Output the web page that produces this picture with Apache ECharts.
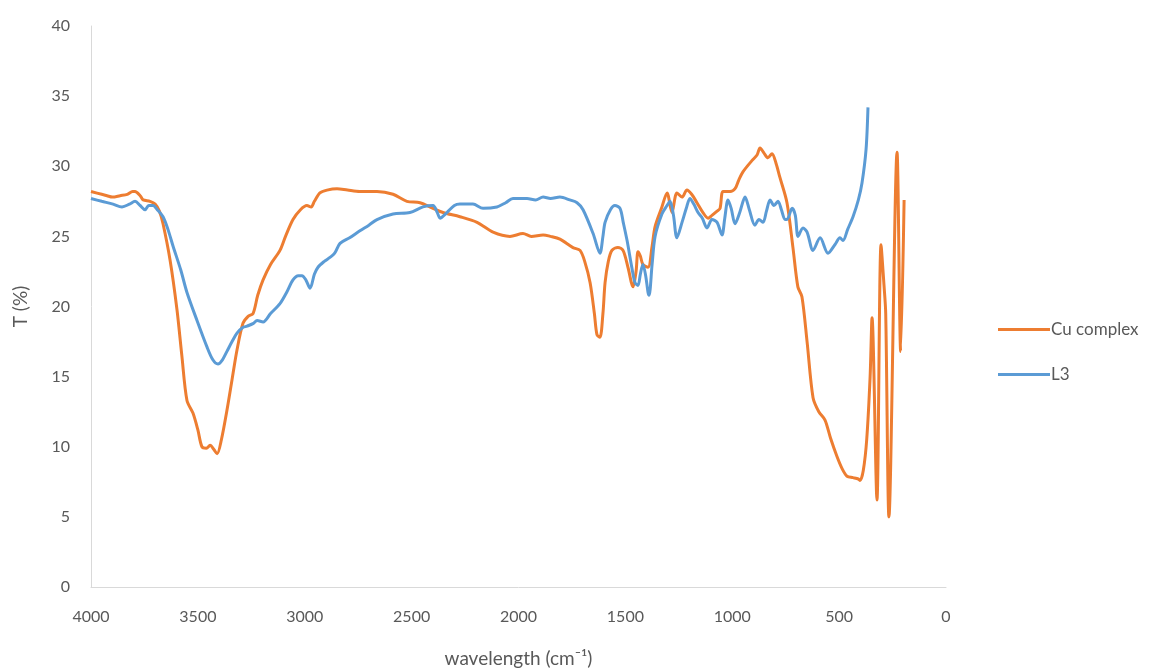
<!DOCTYPE html>
<html>
<head>
<meta charset="utf-8">
<script src="https://cdn.jsdelivr.net/npm/echarts@6/dist/echarts.min.js"></script>
<style>html,body{margin:0;padding:0;background:#fff;overflow:hidden}#c{width:1167px;height:669px}</style>
</head>
<body>
<div id="c"></div>
<script>
const cuWave = [4000,3950,3925,3900,3864,3830,3805,3794,3770,3756,3724,3700,3680,3663,3630,3598,3575,3551,3523,3500,3481,3460,3443,3425,3410,3390,3364,3340,3317,3289,3265,3242,3220,3195,3160,3116,3090,3055,3020,2990,2970,2955,2929,2896,2849,2800,2742,2662,2587,2522,2461,2400,2353,2274,2194,2119,2040,1979,1940,1885,1850,1806,1745,1712,1690,1665,1645,1633,1619,1605,1595,1580,1563,1535,1511,1488,1464,1450,1441,1430,1418,1394,1375,1361,1329,1305,1282,1259,1235,1212,1190,1165,1137,1113,1095,1071,1057,1043,1010,987,970,950,908,884,870,850,833,814,795,777,744,716,693,674,650,622,595,566,540,510,485,463,435,410,402,387,371,355,346,323,304,290,282,267,229,212,196];
const cuT    = [28.2,28.0,27.9,27.8,27.9,28.0,28.2,28.2,27.9,27.6,27.5,27.3,26.8,25.9,23.3,19.8,16.5,13.3,12.4,11.2,10.0,9.9,10.1,9.8,9.5,10.5,12.6,14.8,16.9,18.8,19.3,19.5,20.8,21.9,23.0,24.0,25.0,26.2,26.9,27.2,27.1,27.5,28.1,28.3,28.4,28.3,28.2,28.2,28.0,27.5,27.4,27.0,26.7,26.4,26.0,25.3,25.0,25.2,25.0,25.1,25.0,24.8,24.2,24.0,23.2,21.7,19.5,18.0,17.8,19.5,21.7,23.2,24.0,24.2,24.0,22.8,21.4,22.5,23.9,23.6,23.0,22.8,24.3,25.7,27.1,28.1,26.7,28.1,27.8,28.3,28.0,27.4,26.7,26.3,26.5,26.8,27.0,28.2,28.2,28.4,29.0,29.6,30.4,30.8,31.3,30.9,30.6,30.9,30.2,29.2,27.4,24.2,21.4,20.7,17.5,13.5,12.5,11.9,10.6,9.3,8.4,7.9,7.8,7.7,7.6,8.3,10.5,15.0,19.2,6.2,24.4,21.5,19.5,5.0,31.0,16.8,27.6];

const l3Wave = [4000,3950,3897,3855,3820,3794,3770,3747,3730,3710,3690,3663,3640,3616,3580,3551,3504,3457,3430,3406,3385,3364,3340,3317,3290,3270,3240,3223,3195,3160,3116,3085,3055,3030,3013,2995,2975,2955,2938,2910,2882,2860,2835,2790,2742,2700,2662,2587,2508,2447,2400,2380,2367,2335,2300,2274,2213,2166,2101,2060,2026,1960,1920,1885,1850,1806,1760,1726,1698,1651,1619,1605,1595,1570,1549,1525,1510,1492,1470,1455,1441,1430,1418,1405,1394,1389,1375,1361,1329,1305,1291,1275,1259,1235,1215,1198,1180,1160,1140,1118,1095,1071,1048,1035,1020,1005,987,965,940,920,894,875,856,840,823,805,786,770,753,744,720,705,692,669,650,622,589,552,520,496,482,460,435,410,393,374,365];
const l3T    = [27.7,27.5,27.3,27.1,27.3,27.5,27.2,26.9,27.2,27.2,26.9,26.4,25.5,24.3,22.6,21.0,19.0,17.1,16.2,15.9,16.2,16.8,17.5,18.1,18.5,18.6,18.8,19.0,18.9,19.5,20.2,21.0,21.9,22.2,22.2,21.9,21.3,22.3,22.8,23.2,23.5,23.8,24.5,24.9,25.4,25.8,26.2,26.6,26.7,27.1,27.2,26.7,26.3,26.7,27.2,27.3,27.3,27.0,27.1,27.4,27.7,27.7,27.6,27.8,27.7,27.8,27.6,27.4,26.9,25.2,23.8,25.0,26.0,26.9,27.2,27.0,26.0,24.7,22.8,21.7,21.5,22.3,23.0,22.2,21.0,20.8,23.0,25.0,26.6,27.2,27.5,26.5,24.9,26.0,27.0,27.7,27.3,26.7,26.3,25.6,26.2,26.0,25.1,26.3,27.6,27.0,25.9,26.7,27.8,26.9,25.8,26.2,26.0,26.8,27.6,27.2,27.5,26.9,26.2,26.2,27.0,26.5,25.0,25.6,25.3,24.0,24.9,23.8,24.4,24.9,24.7,25.5,26.4,27.6,28.8,31.2,34.2];

const xTicks = [0, 500, 1000, 1500, 2000, 2500, 3000, 3500, 4000];
const yTicks = [0, 5, 10, 15, 20, 25, 30, 35, 40];
const seriesNames = ['Cu complex', 'L3'];

const zip = (a, b) => a.map((v, i) => [v, b[i]]);
const font = 'Lato, "Open Sans", "Liberation Sans", sans-serif';

const chart = echarts.init(document.getElementById('c'), null, {renderer: 'canvas'});
chart.setOption({
  animation: false,
  backgroundColor: '#ffffff',
  grid: {left: 91, right: 221, top: 26, bottom: 82, containLabel: false, outerBoundsMode: 'none'},
  legend: {
    orient: 'vertical',
    left: 993,
    top: 316,
    itemGap: 28,
    itemWidth: 52,
    itemHeight: 3,
    icon: 'rect',
    data: seriesNames,
    textStyle: {fontFamily: font, fontSize: 17, color: '#595959', padding: [0, 0, 0, -4]}
  },
  xAxis: {
    type: 'value',
    inverse: true,
    min: xTicks[0],
    max: xTicks[xTicks.length - 1],
    interval: 500,
    name: 'wavelength (cm⁻¹)',
    nameLocation: 'middle',
    nameGap: 62,
    nameTextStyle: {fontFamily: font, fontSize: 19, color: '#595959'},
    axisLine: {show: true, onZero: false, lineStyle: {color: '#D9D9D9', width: 1}},
    axisTick: {show: false},
    splitLine: {show: false},
    axisLabel: {fontFamily: font, fontSize: 16, color: '#595959', margin: 22, formatter: v => String(v)}
  },
  yAxis: {
    type: 'value',
    min: yTicks[0],
    max: yTicks[yTicks.length - 1],
    interval: 5,
    name: 'T (%)',
    nameLocation: 'middle',
    nameGap: 61,
    nameTextStyle: {fontFamily: font, fontSize: 19, color: '#595959'},
    axisLine: {show: true, onZero: false, lineStyle: {color: '#D9D9D9', width: 1}},
    axisTick: {show: false},
    splitLine: {show: false},
    axisLabel: {fontFamily: font, fontSize: 16, color: '#595959', margin: 21, formatter: v => String(v)}
  },
  series: [
    {
      name: seriesNames[0], type: 'line', data: zip(cuWave, cuT),
      showSymbol: false, symbol: 'none', smooth: 0.3,
      itemStyle: {color: '#ED7D31'},
      lineStyle: {color: '#ED7D31', width: 3}
    },
    {
      name: seriesNames[1], type: 'line', data: zip(l3Wave, l3T),
      showSymbol: false, symbol: 'none', smooth: 0.3,
      itemStyle: {color: '#5B9BD5'},
      lineStyle: {color: '#5B9BD5', width: 3}
    }
  ]
});
</script>
</body>
</html>
